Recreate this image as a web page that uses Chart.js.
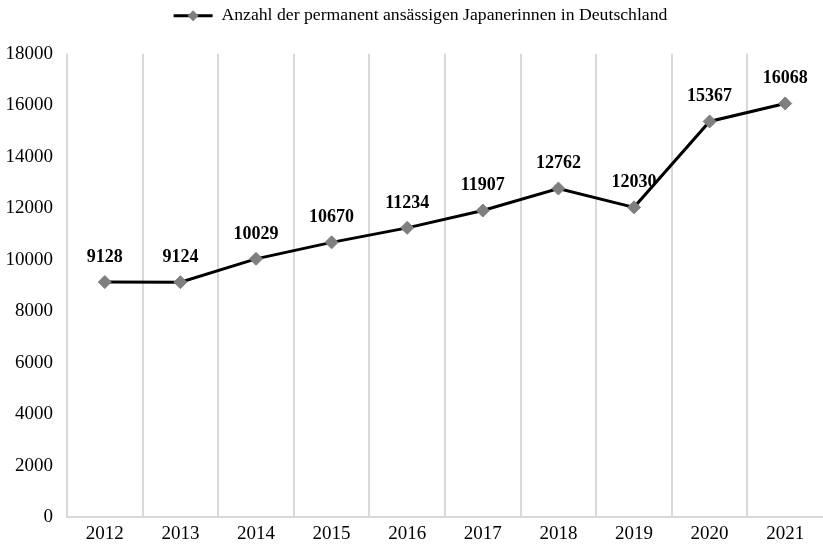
<!DOCTYPE html>
<html>
<head>
<meta charset="utf-8">
<script src="https://cdn.jsdelivr.net/npm/chart.js@4"></script>
<style>
html,body{margin:0;padding:0;background:#fff;overflow:hidden;}
#wrap{width:823px;height:546px;}
canvas{display:block;}
</style>
</head>
<body>
<div id="wrap"><canvas id="c" width="823" height="546"></canvas></div>
<script>
const years = ['2012','2013','2014','2015','2016','2017','2018','2019','2020','2021'];
const residents = [9128, 9124, 10029, 10670, 11234, 11907, 12762, 12030, 15367, 16068];
const seriesName = 'Anzahl der permanent ansässigen Japanerinnen in Deutschland';
const yMin = 0, yMax = 18000, yStep = 2000;

const FONT = '"Liberation Serif", "Times New Roman", serif';
const LEGEND_SHIFT = 9;

const labelPlugin = {
  id: 'valueLabels',
  afterDatasetsDraw(chart) {
    const ctx = chart.ctx;
    const meta = chart.getDatasetMeta(0);
    ctx.save();
    ctx.font = 'bold 18px ' + FONT;
    ctx.fillStyle = '#000';
    ctx.textAlign = 'center';
    ctx.textBaseline = 'middle';
    meta.data.forEach((pt, i) => {
      ctx.fillText(String(residents[i]), pt.x, pt.y - 25);
    });
    ctx.restore();
  }
};

const legendTweaks = {
  id: 'legendTweaks',
  beforeInit(chart) {
    const lg = chart.legend;
    const origFit = lg.fit;
    lg.fit = function () {
      origFit.call(this);
      this.height += 19;
    };
    const origDraw = lg.draw;
    lg.draw = function () {
      const ctx = this.ctx;
      ctx.save();
      ctx.translate(LEGEND_SHIFT, 0);
      origDraw.call(this);
      ctx.restore();
    };
  },
  afterDraw(chart) {
    const boxes = chart.legend && chart.legend.legendHitBoxes;
    if (!boxes || !boxes.length) return;
    const b = boxes[0];
    const ctx = chart.ctx;
    const cx = b.left + LEGEND_SHIFT + 19.5, cy = b.top + b.height / 2;
    ctx.save();
    ctx.fillStyle = '#7f7f7f';
    ctx.beginPath();
    ctx.moveTo(cx - 5.5, cy); ctx.lineTo(cx, cy - 5.5); ctx.lineTo(cx + 5.5, cy); ctx.lineTo(cx, cy + 5.5);
    ctx.closePath();
    ctx.fill();
    ctx.restore();
  }
};

new Chart(document.getElementById('c'), {
  type: 'line',
  data: {
    labels: years,
    datasets: [{
      label: seriesName,
      data: residents,
      borderColor: '#000',
      backgroundColor: '#000',
      borderWidth: 3,
      pointStyle: 'rectRot',
      pointRadius: 6.5,
      pointBackgroundColor: '#7f7f7f',
      pointBorderColor: '#7f7f7f',
      pointBorderWidth: 1,
      tension: 0
    }]
  },
  options: {
    responsive: false,
    animation: false,
    layout: { autoPadding: false, padding: { left: 0, right: 0, top: 0, bottom: 0 } },
    plugins: {
      tooltip: { enabled: false },
      legend: {
        position: 'top',
        labels: {
          font: { family: FONT, size: 17.7 },
          color: '#000',
          boxWidth: 39,
          boxHeight: 3,
          padding: 7,
          generateLabels(chart) {
            return [{ text: seriesName, fillStyle: '#000', strokeStyle: '#000', lineWidth: 0, datasetIndex: 0 }];
          }
        }
      }
    },
    scales: {
      x: {
        offset: true,
        grid: {
          display: true, offset: true, lineWidth: 2, drawTicks: false,
          color: (c) => (c.tick ? '#d9d9d9' : 'rgba(0,0,0,0)')
        },
        border: { display: true, color: '#d9d9d9', width: 2 },
        ticks: { font: { family: FONT, size: 19 }, color: '#000', padding: 6, maxRotation: 0 },
        afterFit(scale) { scale.height = 29; scale.paddingLeft = 0; scale.paddingRight = 0; }
      },
      y: {
        min: yMin, max: yMax,
        grid: { display: false, drawTicks: false },
        border: { display: false },
        ticks: {
          stepSize: yStep, font: { family: FONT, size: 19 }, color: '#000', padding: 14,
          callback: (v) => String(v)
        },
        afterFit(scale) { scale.width = 67; }
      }
    }
  },
  plugins: [legendTweaks, labelPlugin]
});
</script>
</body>
</html>
